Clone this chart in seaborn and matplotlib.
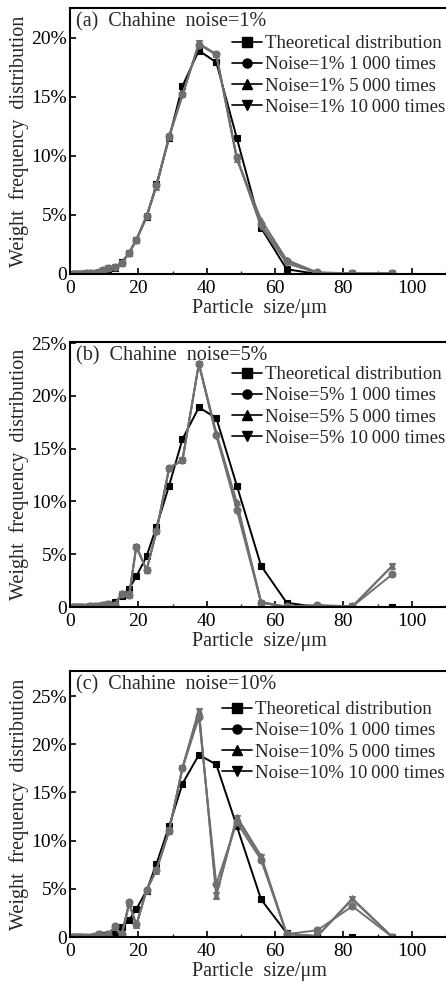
import pandas as pd
import seaborn as sns
import matplotlib.pyplot as plt
from matplotlib.lines import Line2D
from matplotlib.ticker import MultipleLocator

# --- Datos ---
size_um = [1.0, 1.3, 1.7, 2.2, 2.8, 3.6, 4.6, 5.8, 7.4, 8.6, 9.8, 11.2, 13.1, 15.1,
           17.3, 19.4, 22.4, 25.3, 29.0, 32.9, 37.7, 42.8, 48.8, 55.9, 63.4, 72.4,
           82.6, 94.3]

theory = [0.0, 0.0, 0.0, 0.0, 0.01, 0.02, 0.03, 0.05, 0.08, 0.12, 0.2, 0.3, 0.5, 1.0,
          1.75, 2.9, 4.8, 7.6, 11.5, 15.9, 18.9, 17.9, 11.5, 3.9, 0.4, 0.0, 0.0, 0.0]

# (a) ruido 1%
n1_1000 = [0.0, 0.0, 0.0, 0.0, 0.02, 0.03, 0.05, 0.08, 0.12, 0.2, 0.3, 0.5, 0.6, 0.9,
           1.8, 2.9, 4.9, 7.5, 11.7, 15.2, 19.4, 18.6, 9.9, 4.2, 1.1, 0.15, 0.05, 0.05]
n1_5000 = [0.0, 0.0, 0.0, 0.0, 0.02, 0.03, 0.05, 0.08, 0.12, 0.2, 0.3, 0.5, 0.6, 0.9,
           1.8, 2.9, 4.9, 7.4, 11.6, 15.2, 19.5, 18.6, 9.7, 4.6, 1.2, 0.1, 0.05, 0.05]
n1_10000 = [0.0, 0.0, 0.0, 0.0, 0.02, 0.03, 0.05, 0.08, 0.12, 0.2, 0.3, 0.5, 0.6, 0.9,
            1.8, 2.9, 4.9, 7.4, 11.6, 15.1, 19.5, 18.5, 9.8, 4.0, 0.9, 0.1, 0.05, 0.05]

# (b) ruido 5%
n5_1000 = [0.0, 0.0, 0.0, 0.0, 0.0, 0.02, 0.03, 0.05, 0.08, 0.1, 0.15, 0.3, 0.2, 1.2,
           1.1, 5.7, 3.5, 7.2, 13.2, 13.9, 23.0, 16.3, 9.2, 0.4, 0.05, 0.2, 0.05, 3.1]
n5_5000 = [0.0, 0.0, 0.0, 0.0, 0.0, 0.02, 0.03, 0.05, 0.08, 0.1, 0.15, 0.3, 0.2, 1.3,
           1.1, 5.8, 3.5, 7.2, 13.2, 13.9, 23.1, 16.5, 9.9, 0.5, 0.0, 0.1, 0.05, 3.9]
n5_10000 = [0.0, 0.0, 0.0, 0.0, 0.0, 0.02, 0.03, 0.05, 0.08, 0.1, 0.15, 0.3, 0.2, 1.2,
            1.2, 5.7, 3.5, 7.1, 13.1, 13.9, 23.0, 16.2, 9.8, 0.4, 0.0, 0.1, 0.05, 3.9]

# (c) ruido 10%
n10_1000 = [0.0, 0.0, 0.0, 0.0, 0.0, 0.02, 0.03, 0.05, 0.1, 0.3, 0.1, 0.3, 1.1, 0.3,
            3.6, 1.3, 4.9, 7.0, 11.0, 17.5, 22.8, 5.5, 11.9, 8.0, 0.3, 0.7, 3.2, 0.0]
n10_5000 = [0.0, 0.0, 0.0, 0.0, 0.0, 0.02, 0.03, 0.05, 0.1, 0.3, 0.1, 0.3, 1.0, 0.1,
            3.5, 1.2, 4.9, 6.9, 11.0, 17.6, 23.5, 4.3, 12.5, 8.4, 0.3, 0.1, 4.0, 0.0]
n10_10000 = [0.0, 0.0, 0.0, 0.0, 0.0, 0.02, 0.03, 0.05, 0.1, 0.3, 0.1, 0.3, 1.0, 0.1,
             3.4, 1.2, 4.8, 7.0, 11.1, 17.5, 23.5, 4.4, 12.3, 8.3, 0.3, 0.1, 3.9, 0.0]

noise_levels = ["1%", "5%", "10%"]
panel_tags = ["(a)", "(b)", "(c)"]
y_tops = [22.5, 25.1, 27.6]
y_ticks = [[0, 5, 10, 15, 20], [0, 5, 10, 15, 20, 25], [0, 5, 10, 15, 20, 25]]
y_ticklabels = [["0", "5%", "10%", "15%", "20%"],
                ["0", "5%", "10%", "15%", "20%", "25%"],
                ["0", "5%", "10%", "15%", "20%", "25%"]]
noise_series = [[n1_1000, n1_5000, n1_10000],
                [n5_1000, n5_5000, n5_10000],
                [n10_1000, n10_5000, n10_10000]]
runs = ["1\u2009000", "5\u2009000", "10\u2009000"]

# --- Estilo ---
sns.set_theme(style="ticks")
plt.rcParams["font.family"] = ["Liberation Serif", "DejaVu Serif"]
plt.rcParams["axes.linewidth"] = 1.5

W, H = 446, 983
fig = plt.figure(figsize=(W / 100, H / 100), dpi=100)

# posiciones en píxeles: (izq, arriba, abajo)
boxes = [(70, 8, 274), (70, 342, 607), (70, 671, 937)]
legend_x = [0.431, 0.431, 0.404]
legend_top = [27, 24, 30]

gris = "#6f6f6f"
markers = ["s", "o", "^", "v"]

for i in range(3):
    left, top, bottom = boxes[i]
    ax = fig.add_axes([left / W, 1 - bottom / H, (W - left) / W, (bottom - top) / H])

    labels = ["Theoretical distribution"] + [
        f"Noise={noise_levels[i]} {r} times" for r in runs]
    values = [theory] + noise_series[i]
    df = pd.DataFrame({
        "size": size_um * 4,
        "freq": sum(values, []),
        "series": sum([[lab] * len(size_um) for lab in labels], []),
    })
    pal = {lab: ("black" if k == 0 else gris) for k, lab in enumerate(labels)}
    mk = {lab: markers[k] for k, lab in enumerate(labels)}

    sns.lineplot(data=df, x="size", y="freq", hue="series", style="series",
                 hue_order=labels, style_order=labels, palette=pal, markers=mk,
                 dashes=False, markersize=5, markeredgecolor=None,
                 markeredgewidth=0.8, linewidth=1.4, errorbar=None,
                 legend=False, ax=ax)

    ax.set_xlim(0, 110)
    ax.set_ylim(0, y_tops[i])
    ax.set_xticks([0, 20, 40, 60, 80, 100])
    ax.xaxis.set_minor_locator(MultipleLocator(10))
    ax.set_yticks(y_ticks[i])
    ax.set_yticklabels(y_ticklabels[i])
    ax.tick_params(which="major", direction="in", length=4, width=1.2,
                   labelsize=14, colors="black")
    ax.tick_params(axis="x", which="major", pad=4)
    ax.tick_params(axis="y", which="major", pad=2)
    ax.tick_params(which="minor", direction="in", length=2.5, width=1.0)
    ax.spines["right"].set_visible(False)
    for s in ["left", "top", "bottom"]:
        ax.spines[s].set_color("black")

    ax.set_xlabel("Particle  size/\u03bcm", fontsize=14.5)
    ax.set_ylabel("Weight  frequency  distribution", fontsize=14.5)
    ax.xaxis.set_label_coords((259 - left) / (W - left), -25 / (bottom - top))
    ax.yaxis.set_label_coords((29 - left) / (W - left), 0.5)

    ax.text(6 / (W - left), 1 - 14 / (bottom - top),
            f"{panel_tags[i]}  Chahine  noise={noise_levels[i]}",
            transform=ax.transAxes, ha="left", va="center", fontsize=14.5)

    handles = [Line2D([], [], color="black", marker=m, markersize=6.5, lw=1.2)
               for m in markers]
    ax.legend(handles, labels, loc="upper left",
              bbox_to_anchor=(legend_x[i], 1 - legend_top[i] / (bottom - top)),
              frameon=False, fontsize=13.5, borderpad=0, borderaxespad=0,
              handlelength=1.6, handletextpad=0.15, labelspacing=0.22)

fig.savefig("out.png", dpi=100)
plt.close(fig)
